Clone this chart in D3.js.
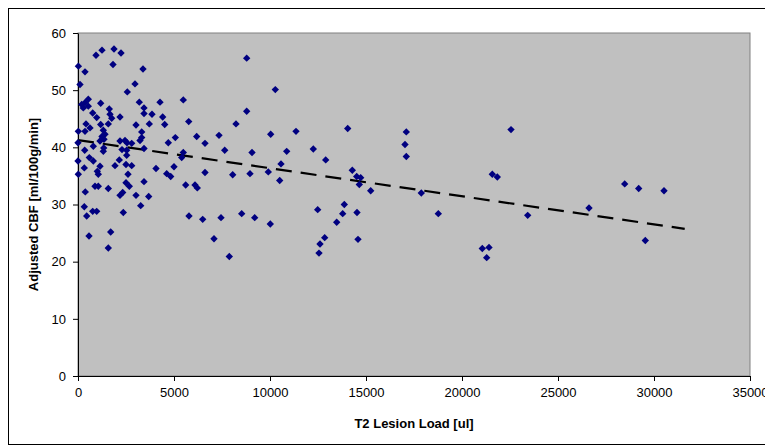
<!DOCTYPE html>
<html>
<head>
<meta charset="utf-8">
<script src="https://d3js.org/d3.v7.min.js"></script>
<style>
  body { margin: 0; background: #fff; }
  text { font-family: "Liberation Sans", Arial, sans-serif; }
</style>
</head>
<body>
<script>
// T2 lesion load vs adjusted CBF
const lesionLoad = [
  20, 365, 104, 938, 1250, 1875, 2240, 1823, 3385, 2969,
  2568, 536, 365, 193, 276, 536, 1182, 1630, 766, 974,
  1667, 1755, 2188, 3193, 3438, 3438, 3854, 4271, 4411, 5484,
  5766, 3714, 4516, 3021, 417, 625, 365, 16, 1182, 1318,
  1406, 1578, 3318, 3318, 6182, 0, 1146, 1354, 2188, 2448,
  2797, 3229, 3438, 4703, 5068, 349, 1318, 2536, 5484, 797,
  2536, 0, 589, 797, 328, 16, 1146, 1005, 1057, 1927,
  2151, 2500, 2797, 2604, 4063, 5000, 4620, 4828, 3438, 5401,
  380, 885, 1057, 1578, 2500, 2672, 2188, 2328, 3021, 3682,
  5609, 6094, 6214, 328, 766, 974, 453, 2359, 3266, 5781,
  1703, 573, 1578, 8786, 10276, 8786, 6615, 7344, 8229, 7641,
  9063, 10036, 11354, 10870, 12255, 12901, 10573, 6615, 8057, 8958,
  9911, 10505, 6495, 7448, 8526, 9203, 10016, 12484, 13474, 7083,
  7880, 12849, 12604, 12552, 14047, 17099, 17031, 17099, 22552, 14286,
  14516, 14724, 14651, 15245, 17880, 13870, 13786, 14531, 14583, 18766,
  21578, 21839, 23422, 21057, 21406, 21286, 26615, 28474, 29203, 30521,
  29547, 1250, 1339, 2292, 2552
];
const adjustedCBF = [
  54.2, 53.2, 51.0, 56.1, 57.0, 57.2, 56.5, 54.5, 53.7, 51.1,
  49.7, 48.4, 47.8, 47.5, 46.9, 47.2, 47.7, 46.7, 46.0, 45.2,
  45.8, 45.1, 45.3, 47.9, 46.9, 45.9, 45.8, 47.9, 45.3, 48.3,
  44.5, 44.1, 44.0, 43.9, 44.1, 43.4, 42.8, 42.8, 44.0, 43.0,
  42.3, 44.1, 42.7, 41.7, 41.9, 40.8, 41.1, 41.4, 41.1, 41.2,
  40.7, 41.2, 39.8, 40.8, 41.7, 39.5, 39.3, 39.5, 39.1, 40.2,
  38.6, 37.6, 38.2, 37.6, 36.4, 35.3, 36.7, 35.8, 35.3, 36.8,
  37.8, 37.0, 36.8, 35.3, 36.3, 36.6, 35.4, 34.9, 34.0, 38.2,
  32.2, 33.2, 33.2, 32.8, 33.8, 33.2, 31.6, 32.1, 31.6, 31.4,
  33.4, 33.4, 32.9, 29.6, 28.8, 28.8, 28.0, 28.6, 29.8, 28.0,
  25.2, 24.5, 22.4, 55.6, 50.1, 46.3, 40.7, 42.1, 44.1, 39.5,
  39.1, 42.3, 42.8, 39.3, 39.7, 37.8, 37.1, 35.6, 35.2, 35.4,
  35.7, 34.2, 27.4, 27.7, 28.4, 27.7, 26.6, 29.1, 26.9, 24.0,
  20.9, 24.2, 23.1, 21.5, 43.3, 42.7, 40.5, 38.4, 43.1, 36.0,
  34.9, 34.7, 33.5, 32.4, 32.0, 30.0, 28.4, 28.6, 23.9, 28.4,
  35.3, 34.8, 28.1, 22.3, 22.5, 20.7, 29.4, 33.6, 32.8, 32.4,
  23.7, 41.9, 39.9, 39.6, 40.8
];
const xTicks = [0, 5000, 10000, 15000, 20000, 25000, 30000, 35000];
const yTicks = [0, 10, 20, 30, 40, 50, 60];
// linear trendline as drawn in the reference
const trendIntercept = 41.26;
const trendSlope = -0.000491;
const trendEnd = 31600;

const width = 765, height = 446;
const margin = {left: 78, right: 15, top: 33, bottom: 70};

const svg = d3.select("body").append("svg")
  .attr("width", width)
  .attr("height", height);

// outer chart border
svg.append("rect")
  .attr("x", 8.5).attr("y", 8.5)
  .attr("width", 800).attr("height", 436)
  .attr("fill", "#fff")
  .attr("stroke", "#000")
  .attr("stroke-width", 1);

const x = d3.scaleLinear().domain([0, 35000]).range([margin.left, width - margin.right]);
const y = d3.scaleLinear().domain([0, 60]).range([height - margin.bottom, margin.top]);

// plot area
svg.append("rect")
  .attr("x", x(0)).attr("y", y(60))
  .attr("width", x(35000) - x(0)).attr("height", y(0) - y(60))
  .attr("fill", "#c0c0c0")
  .attr("stroke", "#808080")
  .attr("stroke-width", 1);

const xAxis = svg.append("g")
  .attr("transform", `translate(0,${y(0)})`)
  .call(d3.axisBottom(x).tickValues(xTicks).tickFormat(d3.format("d")).tickSizeInner(5).tickSizeOuter(0).tickPadding(7));
const yAxis = svg.append("g")
  .attr("transform", `translate(${x(0)},0)`)
  .call(d3.axisLeft(y).tickValues(yTicks).tickSizeInner(5).tickSizeOuter(0).tickPadding(7));

[xAxis, yAxis].forEach(g => {
  g.selectAll("text").style("font-size", "13px").attr("fill", "#000");
  g.selectAll("line").attr("stroke", "#000");
  g.select(".domain").attr("stroke", "#000");
});

// trendline
svg.append("line")
  .attr("x1", x(0)).attr("y1", y(trendIntercept))
  .attr("x2", x(trendEnd)).attr("y2", y(trendIntercept + trendSlope * trendEnd))
  .attr("stroke", "#000")
  .attr("stroke-width", 2.2)
  .attr("stroke-dasharray", "16,9");

// diamond markers
const points = lesionLoad.map((v, i) => [v, adjustedCBF[i]]);
svg.append("g").selectAll("path")
  .data(points)
  .enter()
  .append("path")
  .attr("transform", d => `translate(${x(d[0])},${y(d[1])})`)
  .attr("d", "M0,-3.7L3.7,0L0,3.7L-3.7,0Z")
  .attr("fill", "#000080");

// axis titles
svg.append("text")
  .attr("x", (x(0) + x(35000)) / 2)
  .attr("y", 428)
  .attr("text-anchor", "middle")
  .style("font-size", "13px")
  .style("font-weight", "bold")
  .text("T2 Lesion Load [ul]");

svg.append("text")
  .attr("transform", `translate(38,${(y(0) + y(60)) / 2}) rotate(-90)`)
  .attr("text-anchor", "middle")
  .style("font-size", "13px")
  .style("font-weight", "bold")
  .text("Adjusted CBF [ml/100g/min]");
</script>
</body>
</html>
